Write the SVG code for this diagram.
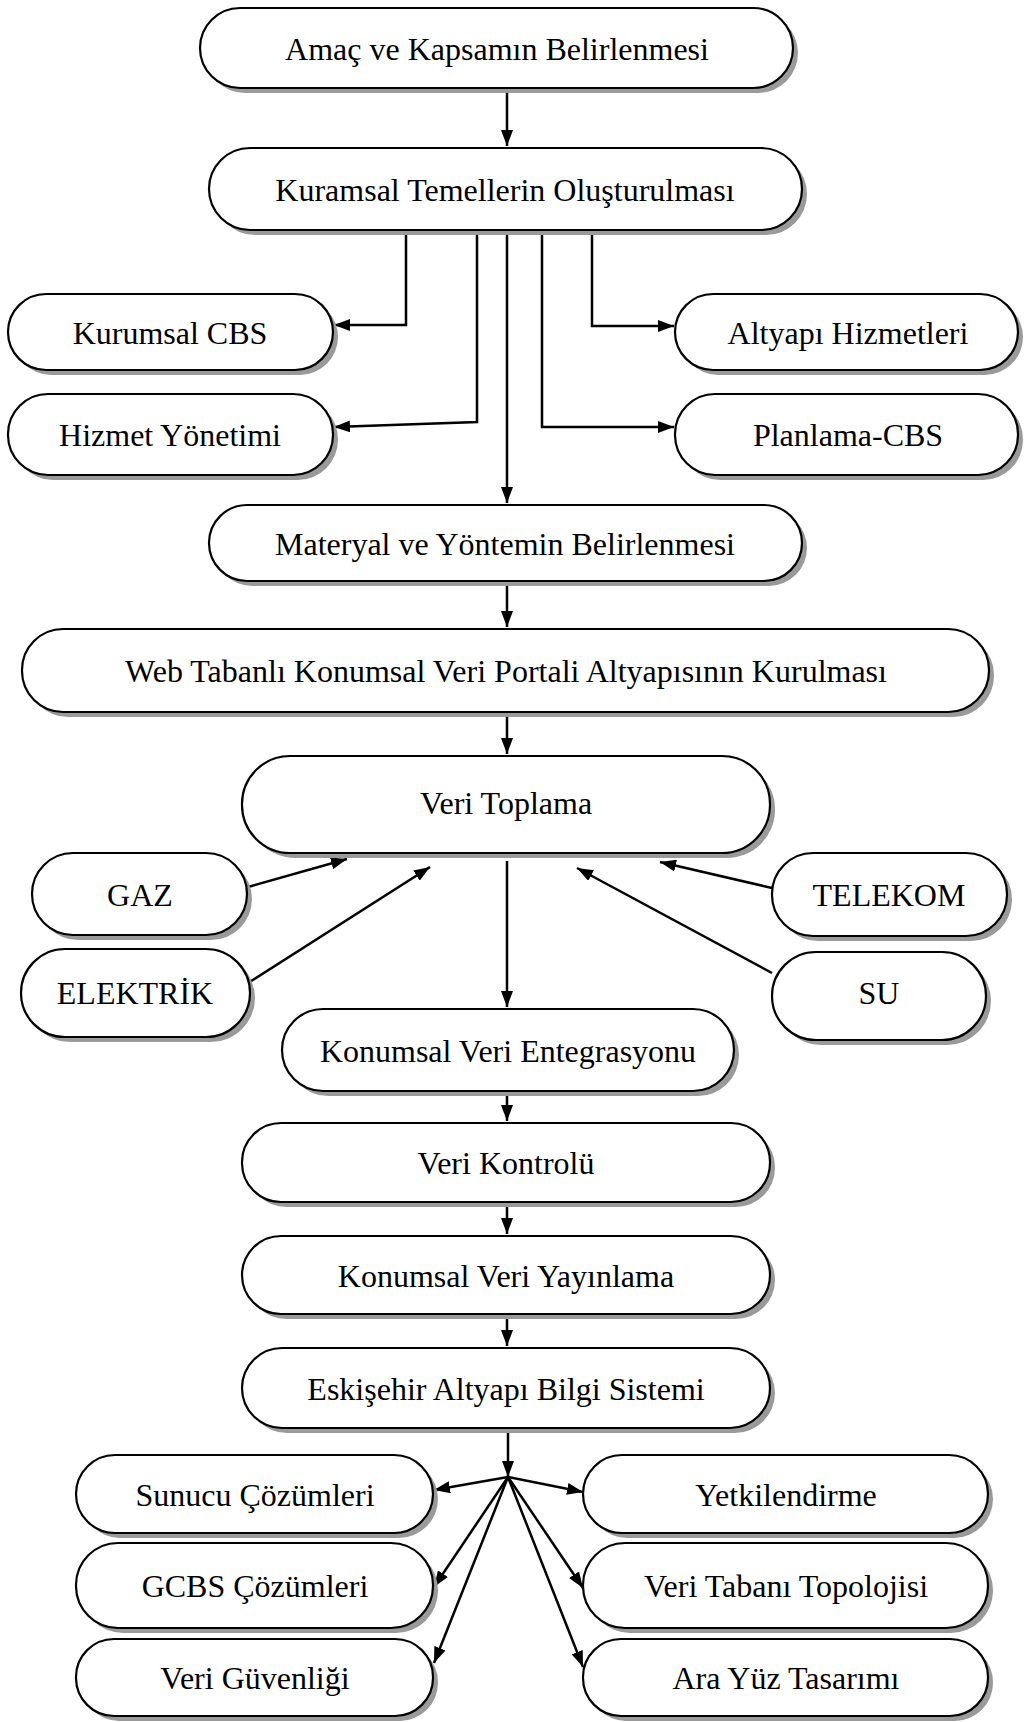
<svg xmlns="http://www.w3.org/2000/svg" width="1027" height="1722" viewBox="0 0 1027 1722">
<style>
.sh{fill:#9a9a9a;stroke:none}
.bx{fill:#fff;stroke:#000;stroke-width:2.2}
.t{font-family:"Liberation Serif","Times New Roman",serif;font-size:32px;fill:#000;text-anchor:middle}
.c{fill:none;stroke:#000;stroke-width:2.5;marker-end:url(#ah)}
</style>
<defs>
<marker id="ah" markerUnits="userSpaceOnUse" markerWidth="16" markerHeight="12" refX="16" refY="6" orient="auto">
<path d="M0,0 L16,6 L0,12 z" fill="#000"/>
</marker>
</defs>
<rect width="1027" height="1722" fill="#fff"/>
<g id="connectors">
<path class="c" d="M507,91 V146"/>
<path class="c" d="M406,230 V325 H334"/>
<path class="c" d="M477,230 V422 L334,427"/>
<path class="c" d="M507,230 V503"/>
<path class="c" d="M542,230 V427 H674"/>
<path class="c" d="M592,230 V326 H674"/>
<path class="c" d="M507,584 V627"/>
<path class="c" d="M507,715 V754"/>
<path class="c" d="M248,887 L347,859"/>
<path class="c" d="M248,983 L430,867"/>
<path class="c" d="M772,888 L660,862"/>
<path class="c" d="M772,973 L577,868"/>
<path class="c" d="M507,861 V1007"/>
<path class="c" d="M507,1094 V1121"/>
<path class="c" d="M507,1205 V1234"/>
<path class="c" d="M507,1317 V1346"/>
<path class="c" d="M508,1431 V1477"/>
<path class="c" d="M508,1477 L434,1490"/>
<path class="c" d="M508,1477 L434,1587"/>
<path class="c" d="M508,1477 L434,1663"/>
<path class="c" d="M508,1477 L583,1492"/>
<path class="c" d="M508,1477 L583,1588"/>
<path class="c" d="M508,1477 L583,1667"/>
</g>
<g id="n1"><rect class="sh" x="205" y="13" width="593" height="80" rx="40"/><rect class="bx" x="200" y="8" width="593" height="80" rx="40"/><text class="t" x="497" y="59.5">Amaç ve Kapsamın Belirlenmesi</text></g>
<g id="n2"><rect class="sh" x="214" y="153" width="593" height="82" rx="41"/><rect class="bx" x="209" y="148" width="593" height="82" rx="41"/><text class="t" x="505" y="200.5">Kuramsal Temellerin Oluşturulması</text></g>
<g id="n3"><rect class="sh" x="13" y="299" width="325" height="76" rx="38"/><rect class="bx" x="8" y="294" width="325" height="76" rx="38"/><text class="t" x="170" y="343.5">Kurumsal CBS</text></g>
<g id="n4"><rect class="sh" x="13" y="399" width="325" height="81" rx="40"/><rect class="bx" x="8" y="394" width="325" height="81" rx="40"/><text class="t" x="170" y="446">Hizmet Yönetimi</text></g>
<g id="n5"><rect class="sh" x="680" y="299" width="343" height="76" rx="38"/><rect class="bx" x="675" y="294" width="343" height="76" rx="38"/><text class="t" x="848" y="343.5">Altyapı Hizmetleri</text></g>
<g id="n6"><rect class="sh" x="680" y="399" width="343" height="81" rx="40"/><rect class="bx" x="675" y="394" width="343" height="81" rx="40"/><text class="t" x="848" y="446">Planlama-CBS</text></g>
<g id="n7"><rect class="sh" x="214" y="510" width="593" height="76" rx="38"/><rect class="bx" x="209" y="505" width="593" height="76" rx="38"/><text class="t" x="505" y="554.5">Materyal ve Yöntemin Belirlenmesi</text></g>
<g id="n8"><rect class="sh" x="27" y="634" width="967" height="83" rx="41"/><rect class="bx" x="22" y="629" width="967" height="83" rx="41"/><text class="t" x="506" y="682">Web Tabanlı Konumsal Veri Portali Altyapısının Kurulması</text></g>
<g id="n9"><rect class="sh" x="247" y="761" width="528" height="97" rx="48"/><rect class="bx" x="242" y="756" width="528" height="97" rx="48"/><text class="t" x="506" y="814">Veri Toplama</text></g>
<g id="n10"><rect class="sh" x="37" y="858" width="215" height="82" rx="41"/><rect class="bx" x="32" y="853" width="215" height="82" rx="41"/><text class="t" x="140" y="905.5">GAZ</text></g>
<g id="n11"><rect class="sh" x="26" y="954" width="229" height="88" rx="44"/><rect class="bx" x="21" y="949" width="229" height="88" rx="44"/><text class="t" x="135" y="1003.5">ELEKTRİK</text></g>
<g id="n12"><rect class="sh" x="777" y="858" width="235" height="83" rx="41"/><rect class="bx" x="772" y="853" width="235" height="83" rx="41"/><text class="t" x="889" y="905.5">TELEKOM</text></g>
<g id="n13"><rect class="sh" x="777" y="957" width="214" height="88" rx="44"/><rect class="bx" x="772" y="952" width="214" height="88" rx="44"/><text class="t" x="879" y="1003.5">SU</text></g>
<g id="n14"><rect class="sh" x="287" y="1014" width="452" height="82" rx="41"/><rect class="bx" x="282" y="1009" width="452" height="82" rx="41"/><text class="t" x="508" y="1061.5">Konumsal Veri Entegrasyonu</text></g>
<g id="n15"><rect class="sh" x="247" y="1128" width="528" height="79" rx="39"/><rect class="bx" x="242" y="1123" width="528" height="79" rx="39"/><text class="t" x="506" y="1174">Veri Kontrolü</text></g>
<g id="n16"><rect class="sh" x="247" y="1241" width="528" height="78" rx="39"/><rect class="bx" x="242" y="1236" width="528" height="78" rx="39"/><text class="t" x="506" y="1286.5">Konumsal Veri Yayınlama</text></g>
<g id="n17"><rect class="sh" x="247" y="1353" width="528" height="80" rx="40"/><rect class="bx" x="242" y="1348" width="528" height="80" rx="40"/><text class="t" x="506" y="1399.5">Eskişehir Altyapı Bilgi Sistemi</text></g>
<g id="n18"><rect class="sh" x="81" y="1460" width="357" height="78" rx="39"/><rect class="bx" x="76" y="1455" width="357" height="78" rx="39"/><text class="t" x="255" y="1506">Sunucu Çözümleri</text></g>
<g id="n19"><rect class="sh" x="81" y="1548" width="357" height="85" rx="42"/><rect class="bx" x="76" y="1543" width="357" height="85" rx="42"/><text class="t" x="255" y="1597">GCBS Çözümleri</text></g>
<g id="n20"><rect class="sh" x="81" y="1644" width="357" height="77" rx="38"/><rect class="bx" x="76" y="1639" width="357" height="77" rx="38"/><text class="t" x="255" y="1689">Veri Güvenliği</text></g>
<g id="n21"><rect class="sh" x="588" y="1460" width="405" height="78" rx="39"/><rect class="bx" x="583" y="1455" width="405" height="78" rx="39"/><text class="t" x="786" y="1506">Yetkilendirme</text></g>
<g id="n22"><rect class="sh" x="588" y="1548" width="405" height="85" rx="42"/><rect class="bx" x="583" y="1543" width="405" height="85" rx="42"/><text class="t" x="786" y="1597">Veri Tabanı Topolojisi</text></g>
<g id="n23"><rect class="sh" x="588" y="1644" width="405" height="77" rx="38"/><rect class="bx" x="583" y="1639" width="405" height="77" rx="38"/><text class="t" x="786" y="1689">Ara Yüz Tasarımı</text></g>
</svg>
